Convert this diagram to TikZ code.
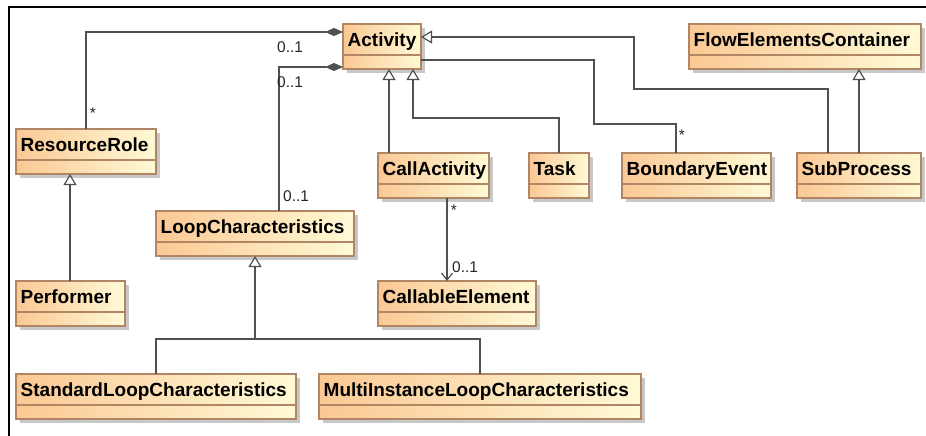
\documentclass[tikz,border=0pt]{standalone}
\usepackage{fontspec}
\setmainfont{Liberation Sans}
\usetikzlibrary{arrows.meta}

\definecolor{linegray}{RGB}{80,80,80}
\definecolor{boxedge}{RGB}{176,134,100}
\definecolor{boxleft}{RGB}{251,200,148}
\definecolor{boxright}{RGB}{255,250,214}
\definecolor{shadowgray}{RGB}{200,200,200}

\tikzset{
  classbox/.style={rectangle, draw=boxedge, line width=1.1pt, inner sep=0pt, outer sep=0pt,
    left color=boxleft, right color=boxright},
  classname/.style={font=\bfseries\fontsize{19}{21}\selectfont, inner sep=0pt},
  mult/.style={font=\fontsize{15.5}{17}\selectfont, inner sep=0pt, text=black!85},
  conn/.style={draw=linegray, line width=1.2pt},
  gen/.style={conn, -{Triangle[open, length=11pt, width=13pt, fill=white]}},
  comp/.style={conn, -{Diamond[length=18pt, width=8pt, fill=linegray]}},
  nav/.style={conn, -{Straight Barb[length=7pt, width=11pt]}},
}

% class box: name, x, y (top left, pixels downwards), width, title
\newcommand{\umlclass}[5]{%
  \fill[shadowgray] (#2+4,#3+4) rectangle ++(#4,45);
  \node[classbox, minimum width=#4pt, minimum height=45pt, anchor=north west] (#1) at (#2,#3) {};
  \draw[boxedge, line width=1.1pt] (#2,#3+31) -- ++(#4,0);
  \node[classname, anchor=base west] at (#2+4.5,#3+22.5) {#5};
}

\begin{document}
\begin{tikzpicture}[x=1pt, y=-1pt]
  \useasboundingbox (0,0) rectangle (926,436);
  \fill[white] (0,0) rectangle (926,436);
  % diagram frame
  \draw[line width=2.6pt] (9,436) -- (9,7) -- (926,7);

  % classes
  \umlclass{act}{343}{24}{78}{Activity}
  \umlclass{fec}{689}{24}{232}{FlowElementsContainer}
  \umlclass{rr}{16}{129}{140}{ResourceRole}
  \umlclass{ca}{378}{153}{111}{CallActivity}
  \umlclass{task}{529}{153}{60}{Task}
  \umlclass{be}{622}{153}{149}{BoundaryEvent}
  \umlclass{sp}{797}{153}{124}{SubProcess}
  \umlclass{lc}{156}{211}{198}{LoopCharacteristics}
  \umlclass{perf}{16}{281}{109}{Performer}
  \umlclass{ce}{378}{281}{158}{CallableElement}
  \umlclass{slc}{16}{374}{280}{StandardLoopCharacteristics}
  \umlclass{mlc}{319}{374}{322}{MultiInstanceLoopCharacteristics}

  % compositions into Activity
  \draw[comp] (rr.north) |- ([yshift=-8pt]act.north west);
  \draw[comp] ([xshift=123pt]lc.north west) |- ([yshift=-43pt]act.north west);

  % generalizations
  \draw[gen] ([xshift=54pt]perf.north west) -- ([xshift=54pt]rr.south west);
  \draw[gen] ([xshift=11pt]ca.north west) -- ([xshift=46pt]act.south west);
  \draw[gen] (task.north) -- ++(0,-35) -| ([xshift=70pt]act.south west);
  \draw[gen] ([xshift=31pt]sp.north west) -- ++(0,-64) -| ++(-194,-52)
    -- ([yshift=-13pt]act.north east);
  \draw[gen] ([xshift=62pt]sp.north west) -- ([xshift=170pt]fec.south west);
  \coordinate (lcj) at ([yshift=-83pt]lc.south);
  \draw[conn] (slc.north) |- (lcj) -| (mlc.north);
  \draw[gen] (lcj) -- (lc.south);

  % associations
  \draw[conn] ([yshift=-36pt]act.north east) -- ++(173,0) -- ++(0,64)
    -| ([xshift=54pt]be.north west);
  \draw[nav] ([xshift=69pt]ca.south west) -- ([xshift=69pt]ce.north west);

  % multiplicities
  \node[mult, anchor=west] (m1) at (277,47) {0..1};
  \node[mult, anchor=west] (m2) at (277,82) {0..1};
  \node[mult, anchor=west] (m3) at (283,196) {0..1};
  \node[mult, anchor=center] (m4) at (93,113) {*};
  \node[mult, anchor=center] (m5) at (454,210) {*};
  \node[mult, anchor=west] (m6) at (452,267) {0..1};
  \node[mult, anchor=center] (m7) at (682,135) {*};
\end{tikzpicture}
\end{document}
